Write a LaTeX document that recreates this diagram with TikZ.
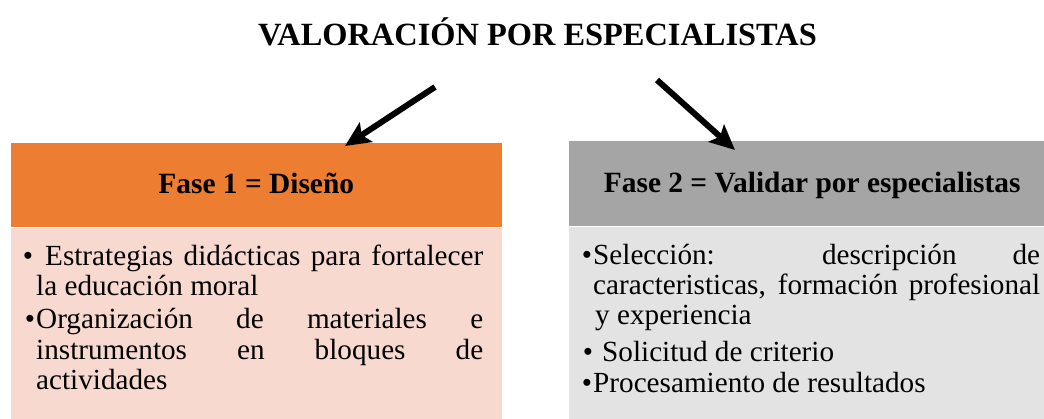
\documentclass[tikz,border=0pt]{standalone}
\usepackage{fontspec}
\setmainfont{Liberation Serif}
\usetikzlibrary{arrows.meta}
\definecolor{orangeH}{HTML}{ED7D31}
\definecolor{orangeB}{HTML}{F8D9D0}
\definecolor{grayH}{HTML}{A5A5A5}
\definecolor{grayB}{HTML}{E3E3E3}
\begin{document}
\begin{tikzpicture}[x=1pt,y=-1pt,
  titletext/.style={font=\fontsize{32.4}{36}\selectfont\bfseries, inner sep=0pt, anchor=base},
  hdr/.style={font=\fontsize{29.4}{33}\selectfont\bfseries, anchor=north west, inner sep=0pt,
              text height=20pt, text depth=2pt, draw=white, line width=0.5pt},
  bodybox/.style={anchor=north west, inner sep=0pt, draw=white, line width=0.5pt},
  ln/.style={font=\fontsize{29.2}{33}\selectfont, anchor=base west, inner sep=0pt},
  arr/.style={line width=6pt, -{Stealth[length=25pt,width=23pt,inset=5pt]}}]
\useasboundingbox (0,0) rectangle (1044,418);
\clip (0,0) rectangle (1044,418);

\node[titletext] (t) at (537.5,45) {VALORACIÓN POR ESPECIALISTAS};

% left column
\node[bodybox, fill=orangeB, minimum width=492pt, minimum height=200pt] (b1) at (10,227) {};
\node[hdr, fill=orangeH, minimum width=492pt, minimum height=85pt] (h1) at (10,142) {Fase 1 = Diseño};

% right column
\node[bodybox, fill=grayB, minimum width=488pt, minimum height=200pt] (b2) at (568,226) {};
\node[hdr, fill=grayH, minimum width=488pt, minimum height=86pt] (h2) at (568,140) {Fase 2 = Validar por especialistas};

% arrows
\coordinate (a1s) at (435,87);
\coordinate (a1e) at (345,146);
\coordinate (a2s) at (657,80);
\coordinate (a2e) at (735,150);
\draw[arr] (a1s) -- (a1e);
\draw[arr] (a2s) -- (a2e);

% left text
\node[ln] (l1a) at (36,265) {\llap{\textbullet\hspace{3pt}}\hspace{9pt}\makebox[438pt][s]{Estrategias didácticas para fortalecer}};
\node[ln] (l1b) at (36,295) {la educación moral};
\node[ln] (l2a) at (36,328) {\llap{\textbullet\hspace{1pt}}\makebox[447pt][s]{Organización de materiales e}};
\node[ln] (l2b) at (36,359) {\makebox[447pt][s]{instrumentos en bloques de}};
\node[ln] (l2c) at (36,389) {actividades};

% right text
\node[ln] (r1a) at (593,264) {\llap{\textbullet\hspace{1pt}}\makebox[447pt][s]{Selección: descripción de}};
\node[ln] (r1b) at (593,294) {\makebox[447pt][s]{caracteristicas, formación profesional}};
\node[ln] (r1c) at (595,324) {y experiencia};
\node[ln] (r2) at (602,361) {\llap{\textbullet\hspace{9pt}}Solicitud de criterio};
\node[ln] (r3) at (593,392) {\llap{\textbullet\hspace{1pt}}Procesamiento de resultados};
\end{tikzpicture}
\end{document}
